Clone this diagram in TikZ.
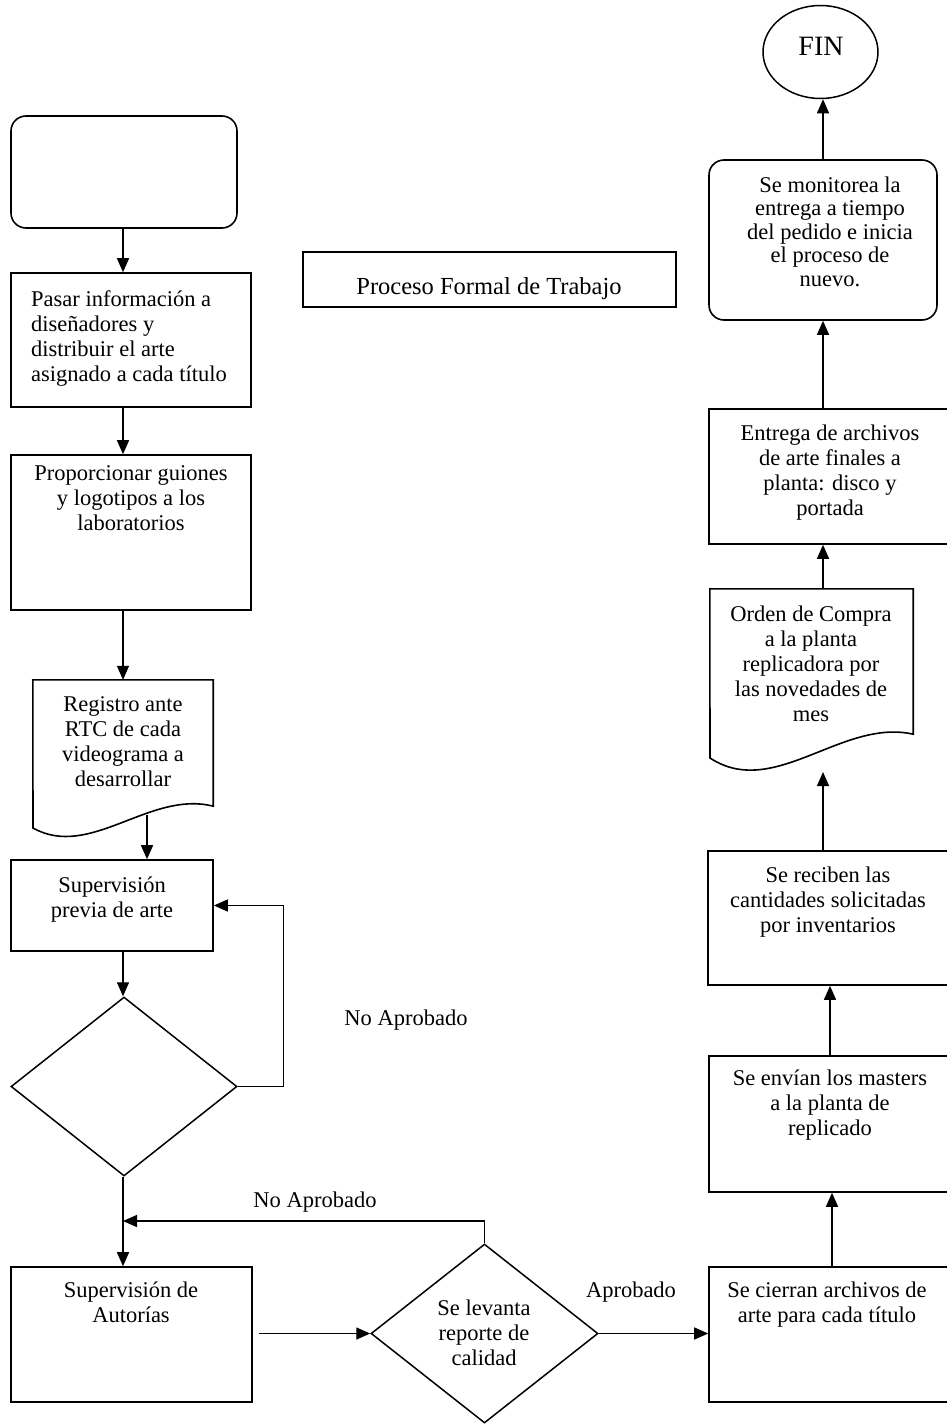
\documentclass[tikz,border=0pt]{standalone}
\usepackage{fontspec}
\setmainfont{Liberation Serif}
\usetikzlibrary{shapes.geometric,arrows.meta}
\begin{document}
\begin{tikzpicture}[x=1pt,y=-1pt,
  box/.style={draw, line width=1.6pt, inner sep=0pt, rectangle},
  rbox/.style={box, rounded corners=15pt},
  dia/.style={draw, line width=1.5pt, diamond, inner sep=0pt},
  ghost/.style={inner sep=0pt, rectangle},
  txt/.style={font=\fontsize{22.5}{25}\selectfont, align=center, inner sep=0pt, anchor=north},
  lbl/.style={font=\fontsize{22.5}{25}\selectfont, inner sep=0pt, anchor=base},
  arr/.style={line width=1.4pt, -{Triangle[length=14pt,width=12pt]}},
  ln/.style={line width=1.4pt}]
\useasboundingbox (0,0) rectangle (947,1424);
\clip (0,0) rectangle (947,1424);
\fill[white] (0,0) rectangle (947,1424);

% ---------- left column ----------
\node[rbox, minimum width=226pt, minimum height=112pt] (start) at (124,172) {};

\node[box, minimum width=240pt, minimum height=134pt] (pasar) at (131,340) {};
\node[txt, anchor=north west, align=left] (tpasar) at (31,290.6)
  {Pasar información a\\diseñadores y\\distribuir el arte\\asignado a cada título};

\node[box, minimum width=240pt, minimum height=155pt] (prop) at (131,532.5) {};
\node[txt] (tprop) at (131,465.6) {Proporcionar guiones\\y logotipos a los\\laboratorios};

\node[ghost, minimum width=180pt, minimum height=126pt] (reg) at (123,743) {};
\draw[line width=1.6pt] (reg.north west) -- (reg.north east) -- (reg.south east)
  .. controls (150,790) and (90,860) .. (33,828) -- cycle;
\node[txt] (treg) at (123,696.6) {Registro ante\\RTC de cada\\videograma a\\desarrollar};
\coordinate (regb) at (147,815);

\node[box, minimum width=202pt, minimum height=91pt] (supp) at (112,905.5) {};
\node[txt] (tsupp) at (112,876.6) {Supervisión\\previa de arte};

\node[dia, minimum width=226pt, minimum height=179pt] (d1) at (124,1086.5) {};

\node[box, minimum width=241pt, minimum height=135pt] (aut) at (131.5,1334.5) {};
\node[txt] (taut) at (131,1281.6) {Supervisión de\\Autorías};

\node[dia, minimum width=227pt, minimum height=179pt] (d2) at (484.5,1333.5) {};
\node[txt] (td2) at (484,1299.6) {Se levanta\\reporte de\\calidad};

% ---------- title ----------
\node[box, minimum width=373pt, minimum height=55pt] (proc) at (489.5,279.5) {};
\node[lbl, font=\fontsize{24.5}{28}\selectfont] (tproc) at (489,294) {Proceso Formal de Trabajo};

% ---------- right column ----------
\node[ellipse, draw, line width=1.5pt, inner sep=0pt, minimum width=115pt, minimum height=93pt] (fin) at (820.5,52) {};
\node[lbl, font=\fontsize{28}{30}\selectfont] (tfin) at (821,55) {FIN};

\node[rbox, minimum width=228pt, minimum height=160pt] (mon) at (823,240) {};
\node[txt, font=\fontsize{22.5}{23.5}\selectfont] (tmon) at (830,176.6)
  {Se monitorea la\\entrega a tiempo\\del pedido e inicia\\el proceso de\\nuevo.};

\node[box, minimum width=243pt, minimum height=135pt] (ent) at (830.5,476.5) {};
\node[txt] (tent) at (830,424.6) {Entrega de archivos\\de arte finales a\\planta: disco y\\portada};

\node[ghost, minimum width=203pt, minimum height=145pt] (ord) at (811.5,661.5) {};
\draw[line width=1.6pt] (ord.north west) -- (ord.north east) -- (ord.south east)
  .. controls (842,718) and (774,800) .. (710,758) -- cycle;
\node[txt] (tord) at (811,605.6) {Orden de Compra\\a la planta\\replicadora por\\las novedades de\\mes};
\coordinate (ordb) at (823,772);

\node[box, minimum width=244pt, minimum height=134pt] (rec) at (830,918) {};
\node[txt] (trec) at (828,866.6) {Se reciben las\\cantidades solicitadas\\por inventarios};

\node[box, minimum width=243pt, minimum height=136pt] (env) at (830.5,1124) {};
\node[txt] (tenv) at (830,1069.6) {Se envían los masters\\a la planta de\\replicado};

\node[box, minimum width=243pt, minimum height=135pt] (cie) at (830.5,1334.5) {};
\node[txt] (tcie) at (827,1281.6) {Se cierran archivos de\\arte para cada título};

% ---------- labels ----------
\node[lbl] (lbl1) at (406,1025) {No Aprobado};
\node[lbl] (lbl2) at (315,1207) {No Aprobado};
\node[lbl] (lbl3) at (631,1297) {Aprobado};

% ---------- connectors ----------
\coordinate (xl) at (123,0);
\coordinate (xa) at (823,0);
\coordinate (xb) at (830,0);
\coordinate (xc) at (832,0);

\draw[arr] (start.south -| xl) -- (pasar.north -| xl);
\draw[arr] (pasar.south -| xl) -- (prop.north -| xl);
\draw[arr] (prop.south -| xl) -- (reg.north -| xl);
\draw[arr] (regb) -- (regb |- supp.north);
\draw[arr] (supp.south -| xl) -- (d1.north -| xl);
\draw[arr] (d1.east) -- ++(46,0) |- (supp.east);
\draw[arr] (d1.south -| xl) -- (aut.north -| xl);
\coordinate (join) at (123,1221);
\draw[arr] (d2.north) |- (join);
\draw[arr] ([xshift=6pt]aut.east |- d2.west) -- (d2.west);
\draw[arr] (d2.east) -- (d2.east -| cie.west);
\draw[arr] (cie.north -| xc) -- (env.south -| xc);
\draw[arr] (env.north -| xb) -- (rec.south -| xb);
\draw[arr] (rec.north -| xa) -- (ordb);
\draw[arr] (ord.north -| xa) -- (ent.south -| xa);
\draw[arr] (ent.north -| xa) -- (mon.south -| xa);
\draw[arr] (mon.north -| xa) -- (fin.south -| xa);
\end{tikzpicture}
\end{document}
